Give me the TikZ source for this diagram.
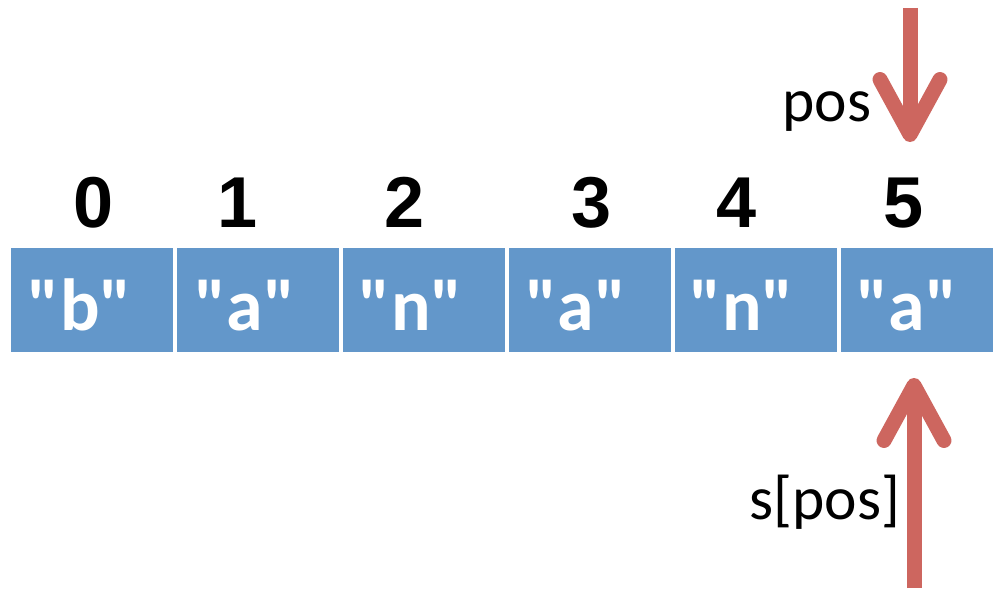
\documentclass[tikz,border=0pt]{standalone}
\usepackage{fontspec}
\setmainfont{Carlito}
\newfontfamily\digitfont{Liberation Sans}
\usetikzlibrary{positioning,arrows.meta}

\definecolor{cellblue}{RGB}{99,151,202}
\definecolor{ptrred}{RGB}{205,102,95}
\newcommand{\qt}[1]{\textquotedbl#1\textquotedbl}

\begin{document}
\begin{tikzpicture}[x=0.02cm,y=-0.02cm,
  cell/.style={fill=cellblue,draw=white,line width=0.04cm,minimum width=3.3cm,minimum height=2.12cm,inner sep=0pt},
  chr/.style={text=white,font=\fontsize{42}{46}\selectfont\bfseries,anchor=base},
  idx/.style={font=\digitfont\fontsize{41}{45}\selectfont\bfseries,anchor=base},
  ptr/.style={ptrred,line width=0.3cm,-{Straight Barb[length=1.1cm,width=1.2cm,round]}},
  lbl/.style={font=\fontsize{35}{38}\selectfont,anchor=base}]
  \useasboundingbox (0,0) rectangle (993,588);
  % the string cells
  \node[cell] (c0) at (92,300) {};
  \node[cell] (c1) at (258,300) {};
  \node[cell] (c2) at (424,300) {};
  \node[cell] (c3) at (590,300) {};
  \node[cell] (c4) at (756,300) {};
  \node[cell] (c5) at (922,300) {};
  \node[chr] (s0) at (80,330) {\qt{b}};
  \node[chr] (s1) at (245,330) {\qt{a}};
  \node[chr] (s2) at (411,330) {\qt{n}};
  \node[chr] (s3) at (576,330) {\qt{a}};
  \node[chr] (s4) at (742,330) {\qt{n}};
  \node[chr] (s5) at (907,330) {\qt{a}};
  % indices
  \node[idx] (i0) at (94,227) {0};
  \node[idx] (i1) at (238,227) {1};
  \node[idx] (i2) at (405,227) {2};
  \node[idx] (i3) at (592,227) {3};
  \node[idx] (i4) at (737,227) {4};
  \node[idx] (i5) at (904,227) {5};
  % pointers
  \coordinate (ptop) at (910,8);
  \coordinate (ptip) at (910,142);
  \coordinate (sbot) at (914,588);
  \coordinate (stip) at (914,378);
  \draw[ptr] (ptop) -- (ptip);
  \draw[ptr] (sbot) -- (stip);
  \node[lbl] (pos) at (827,121) {pos};
  \node[lbl] (spos) at (825,519) {s[pos]};
\end{tikzpicture}
\end{document}
